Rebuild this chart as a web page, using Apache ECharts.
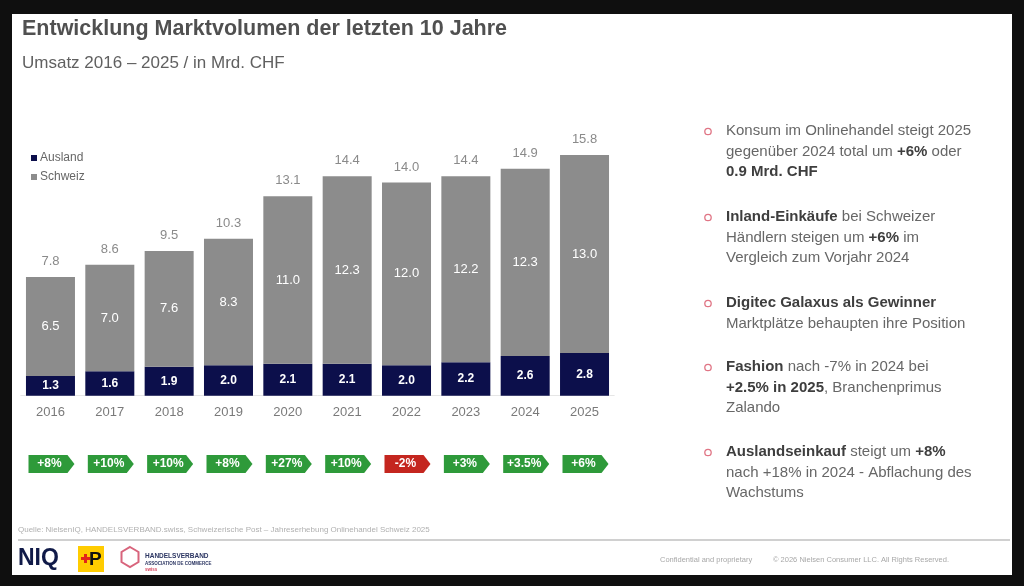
<!DOCTYPE html>
<html>
<head>
<meta charset="UTF-8">
<script type="text/javascript" src="https://cdn.jsdelivr.net/npm/echarts@6/dist/echarts.min.js"></script>
<title>Marktvolumen</title>
<style>
	html, body { margin: 0; padding: 0; background: #0f0f0f; }
	#slide { position: absolute; left: 12px; top: 14px; width: 1000px; height: 561px; background: #fff; }
	#main { position: absolute; left: 0; top: 0; width: 1024px; height: 586px; }
</style>
<script>
	// Werte aus der Grafik
	var years = ['2016', '2017', '2018', '2019', '2020', '2021', '2022', '2023', '2024', '2025'];
	var ausland = [1.3, 1.6, 1.9, 2.0, 2.1, 2.1, 2.0, 2.2, 2.6, 2.8];
	var schweiz = [6.5, 7.0, 7.6, 8.3, 11.0, 12.3, 12.0, 12.2, 12.3, 13.0];
	var totals = [7.8, 8.6, 9.5, 10.3, 13.1, 14.4, 14.0, 14.4, 14.9, 15.8];
	var growth = ['+8%', '+10%', '+10%', '+8%', '+27%', '+10%', '-2%', '+3%', '+3.5%', '+6%'];

	var FONT = "'Liberation Sans', Arial, sans-serif";
	var NARROW = "'Liberation Sans Narrow', 'Arial Narrow', sans-serif";

	// Texte rechts
	var bullets = [
		{ y: 121, text: 'Konsum im Onlinehandel steigt 2025\ngegenüber 2024 total um {b|+6%} oder\n{b|0.9 Mrd. CHF}' },
		{ y: 207, text: '{b|Inland-Einkäufe} bei Schweizer\nHändlern steigen um {b|+6%} im\nVergleich zum Vorjahr 2024' },
		{ y: 293, text: '{b|Digitec Galaxus als Gewinner}\nMarktplätze behaupten ihre Position' },
		{ y: 357, text: '{b|Fashion} nach -7% in 2024 bei\n{b|+2.5% in 2025}, Branchenprimus\nZalando' },
		{ y: 442, text: '{b|Auslandseinkauf} steigt um {b|+8%}\nnach +18% in 2024 - Abflachung des\nWachstums' }
	];

	function oneDecimal(p) {
		return Number(p.value).toFixed(1);
	}

	window.onload = function() {
		var myChart = echarts.init(document.getElementById('main'));

		var graphics = [
			{ type: 'text', left: 22, top: 18, style: { text: 'Entwicklung Marktvolumen der letzten 10 Jahre', font: 'bold 21.5px ' + FONT, fill: '#505050' } },
			{ type: 'text', left: 22, top: 55, style: { text: 'Umsatz 2016 – 2025 / in Mrd. CHF', font: '17px ' + FONT, fill: '#606060' } },
			// Quelle + Trennlinie
			{ type: 'text', left: 18, top: 526, style: { text: 'Quelle: NielsenIQ, HANDELSVERBAND.swiss, Schweizerische Post – Jahreserhebung Onlinehandel Schweiz 2025', font: '8px ' + FONT, fill: '#b0b0b0' } },
			{ type: 'line', shape: { x1: 18, y1: 540, x2: 1010, y2: 540 }, style: { stroke: '#d0d0d0', lineWidth: 2 } },
			// Logos
			{ type: 'text', left: 18, top: 547, style: { text: 'NIQ', font: 'bold 23px ' + FONT, fill: '#101a48' } },
			{ type: 'rect', shape: { x: 78, y: 546, width: 26, height: 26 }, style: { fill: '#ffcc00' } },
			{ type: 'rect', shape: { x: 81, y: 557, width: 9, height: 3 }, style: { fill: '#e2231a' } },
			{ type: 'rect', shape: { x: 84, y: 554, width: 3, height: 9 }, style: { fill: '#e2231a' } },
			{ type: 'text', left: 89, top: 550, style: { text: 'P', font: 'bold 19px ' + FONT, fill: '#111' } },
			{ type: 'polygon', shape: { points: [[130, 547], [138.5, 552], [138.5, 562], [130, 567], [121.5, 562], [121.5, 552]] }, style: { fill: 'none', stroke: '#d8647c', lineWidth: 2 } },
			{ type: 'text', left: 145, top: 553, style: { text: 'HANDELSVERBAND', font: 'bold 6.5px ' + FONT, fill: '#2b3562' } },
			{ type: 'text', left: 145, top: 561, style: { text: 'ASSOCIATION DE COMMERCE', font: 'bold 4.5px ' + FONT, fill: '#2b3562' } },
			{ type: 'text', left: 145, top: 567, style: { text: 'swiss', font: 'bold 4.5px ' + FONT, fill: '#d8445c' } },
			{ type: 'text', left: 660, top: 556, style: { text: 'Confidential and proprietary', font: '7.5px ' + FONT, fill: '#a8a8a8' } },
			{ type: 'text', left: 773, top: 556, style: { text: '© 2026 Nielsen Consumer LLC. All Rights Reserved.', font: '7.5px ' + FONT, fill: '#a8a8a8' } }
		];

		for (var i = 0; i < bullets.length; i++) {
			graphics.push({
				type: 'circle', shape: { cx: 708, cy: bullets[i].y + 10.5, r: 3.2 },
				style: { fill: '#fff', stroke: '#e07585', lineWidth: 1.3 }
			});
			graphics.push({
				type: 'text', x: 726, y: bullets[i].y,
				style: {
					text: bullets[i].text,
					fontFamily: FONT, fontSize: 15, lineHeight: 20.5, fill: '#676767',
					verticalAlign: 'top',
					rich: { b: { fontFamily: FONT, fontSize: 15, lineHeight: 20.5, fontWeight: 'bold', fill: '#3e3e3e' } }
				}
			});
		}

		myChart.setOption({
			animation: false,
			textStyle: { fontFamily: FONT },
			legend: {
				orient: 'vertical',
				left: 26,
				top: 147,
				itemWidth: 6,
				itemHeight: 6,
				itemGap: 7,
				icon: 'rect',
				textStyle: { fontSize: 12, color: '#666', padding: [0, 0, 0, -2] },
				data: ['Ausland', 'Schweiz']
			},
			grid: [
				{ left: 20.8, right: 409.8, top: 152, bottom: 190.3 },
				{ left: 20.8, right: 409.8, top: 446, height: 36 }
			],
			xAxis: [
				{
					type: 'category', gridIndex: 0, data: years,
					axisLine: { lineStyle: { color: '#e6e6e6', width: 1 } },
					axisTick: { show: false },
					axisLabel: { color: '#7a7a7a', fontSize: 13, margin: 10 }
				},
				{ type: 'category', gridIndex: 1, data: years, show: false }
			],
			yAxis: [
				{ type: 'value', gridIndex: 0, min: 0, max: 16, show: false },
				{ type: 'value', gridIndex: 1, min: 0, max: 1, show: false }
			],
			series: [
				{
					name: 'Ausland', type: 'bar', stack: 'total', barWidth: 49,
					itemStyle: { color: '#0c0f4b' },
					label: { show: true, position: 'inside', color: '#fff', fontWeight: 'bold', fontSize: 12, formatter: oneDecimal },
					data: ausland
				},
				{
					name: 'Schweiz', type: 'bar', stack: 'total', barWidth: 49,
					itemStyle: { color: '#8c8c8c' },
					label: { show: true, position: 'inside', color: '#fff', fontSize: 13, formatter: oneDecimal },
					data: schweiz
				},
				{
					name: 'Total', type: 'line', symbol: 'circle', symbolSize: 2, silent: true,
					itemStyle: { color: 'rgba(0,0,0,0)' },
					lineStyle: { width: 0, color: 'rgba(0,0,0,0)' },
					label: { show: true, position: 'top', distance: 8, color: '#8a8a8a', fontSize: 13, formatter: oneDecimal },
					data: totals
				},
				{
					name: 'Wachstum', type: 'scatter', xAxisIndex: 1, yAxisIndex: 1,
					symbol: 'path://M0,0 L39,0 L46,9 L39,18 L0,18 Z',
					symbolSize: [46, 18],
					symbolOffset: [1, 0],
					label: {
						show: true, position: 'inside', offset: [-2, 0], color: '#fff',
						fontFamily: NARROW, fontWeight: 'bold', fontSize: 12,
						formatter: function(p) { return growth[p.dataIndex]; }
					},
					itemStyle: {
						opacity: 1,
						color: function(p) { return growth[p.dataIndex].charAt(0) === '-' ? '#c4261f' : '#2e9a3a'; }
					},
					data: years.map(function(y) { return 0.5; })
				}
			],
			graphic: graphics
		});
	};
</script>
</head>
<body>
<div id="slide"></div>
<div id="main"></div>
</body>
</html>
